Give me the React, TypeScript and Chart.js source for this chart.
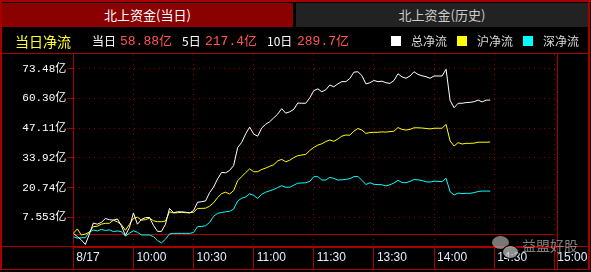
import React, { useEffect, useRef } from "react";
import { Chart, registerables } from "chart.js";

Chart.register(...registerables);

// minutes since 09:30 (trading minutes, lunch removed)
const minutes = [
  0, 2, 4, 6, 8, 10, 12, 14, 16, 18, 20, 22, 24, 26, 28, 30, 32, 34, 36, 38,
  40, 42, 44, 46, 48, 50, 52, 54, 56, 58, 60, 62, 64, 66, 68, 70, 72, 74, 76, 78,
  80, 82, 84, 86, 88, 90, 92, 94, 96, 98, 100, 102, 104, 106, 108, 110, 112, 114, 116, 118,
  120, 122, 124, 126, 128, 130, 132, 134, 136, 138, 140, 142, 144, 146, 148, 150, 152, 154, 156, 158,
  160, 162, 164, 166, 168, 170, 172, 174, 176, 178, 180, 182, 184, 186, 188, 190, 192, 194, 196, 198,
  200, 202, 204, 206, 208,
];

// 总净流 (亿)
const totalFlow = [
  0.4, -1, -2.5, -4.5, 0, 5, 4.5, 5.3, 7, 6.5,
  6.3, 6.8, 3.8, -0.5, 3, 9.5, 4.5, 6.6, 7.4, 7.5,
  4, 1.3, 1.3, 4.5, 11.5, 9.6, 10, 10, 9.8, 9.5,
  10.5, 14.2, 14.5, 14.8, 18.5, 21, 24.6, 27.5, 27.3, 28.4,
  30.5, 38.5, 40.8, 44.6, 47.6, 44.5, 43.6, 47.2, 48.9, 50,
  51.7, 53.4, 55.8, 53.8, 54.4, 55.5, 58.3, 58.2, 58.2, 60.6,
  63.8, 64.6, 63.3, 64.2, 66.3, 65.5, 66.8, 67.8, 67.8, 69.2,
  72, 72.2, 70.5, 66.8, 67.3, 68.3, 67.8, 68, 67.3, 67,
  68.3, 71.3, 69.9, 69.3, 70.3, 72.2, 71, 70.4, 70, 69.3,
  70.3, 70.3, 70.3, 73.3, 59.5, 56.2, 58.2, 58.2, 58.5, 58.6,
  58.9, 59.6, 58.8, 59.6, 59.6,
];

// 沪净流 (亿)
const shFlow = [
  0.4, 2.4, -0.3, 0.1, 1, 3.4, 3.6, 4.5, 4.9, 4.9,
  6.3, 5.5, 4.3, 1.8, 4.4, 7.1, 7.6, 6.3, 6.5, 7.2,
  6, 5.6, 5.6, 5.9, 10, 9.5, 9.6, 9.8, 9.6, 9.6,
  9.8, 11.5, 11.5, 11.6, 12.5, 14, 16.3, 18.1, 18.7, 17.9,
  19.4, 23.8, 25.6, 27.4, 29.1, 27.8, 27.8, 28.8, 29.4, 30.2,
  30.9, 32.6, 33.3, 32.2, 32.9, 34.1, 34.9, 35.2, 35.5, 37.2,
  38.6, 39.6, 40.2, 41.2, 41.9, 41.3, 42.3, 43.6, 44.1, 44,
  45.8, 47, 46.3, 44.8, 45.2, 45.3, 45.3, 45.5, 45.4, 45.6,
  45.8, 47.4, 46.6, 46.3, 46.6, 47.3, 47.3, 47.2, 47, 46.8,
  47.1, 47.1, 47.1, 48.8, 41.5, 39.2, 40.7, 40.1, 40.4, 40.4,
  40.5, 40.9, 40.9, 40.9, 41,
];

// 深净流 (亿)
const szFlow = [
  -1.1, -1.7, -1.5, -1.5, 1, 1.9, 1.5, 2.2, 1.7, 2,
  1.2, 1.5, 1.2, -0.8, 0.5, 1.6, 0.9, -0.3, -0.3, -0.3,
  -1, -2.8, -3.8, -2.2, 0.2, 0.4, 0.4, 0.4, 0.4, 0.4,
  0.8, 3.4, 3.5, 3.8, 5.3, 8, 9.3, 9.7, 10, 10.2,
  11.2, 14.8, 16, 16.6, 18, 17.3, 15.9, 17.8, 18.7, 19.3,
  19.9, 20.8, 21.6, 20.9, 20.9, 21.8, 22.7, 22.8, 22.9, 23.5,
  25.6, 25.6, 24.1, 24.1, 25.3, 24.8, 24.1, 24.2, 24.4, 24.7,
  25.6, 25.7, 24, 22.1, 22.9, 22.2, 22.1, 22, 21.5, 22,
  22.8, 24, 23, 22.9, 23.5, 24.3, 24.2, 23.9, 23.3, 23.2,
  23.6, 23.5, 23.4, 24.9, 18.9, 17.5, 18.3, 18.1, 18.2, 18.2,
  18.5, 19, 19.2, 19.2, 19.2,
];

const xTickMinutes = [0, 30, 60, 90, 120, 150, 180, 210, 240];
const xTickLabels = ["8/17", "10:00", "10:30", "11:00", "11:30", "13:30", "14:00", "14:30", "15:00"];
const yTickValues = [7.553, 20.738, 33.923, 47.108, 60.293, 73.478];
const yTickLabels = ["7.553亿", "20.74亿", "33.92亿", "47.11亿", "60.30亿", "73.48亿"];
const yRange = [-5.632, 80.07];
const xRange = [0, 241.6];

const summaryLabels = ["当日", "5日", "10日"];
const summaryValues = ["58.88亿", "217.4亿", "289.7亿"];
const seriesNames = ["总净流", "沪净流", "深净流"];

const RED = "#a80000";
const DOT = "#8c0000";
const COLORS = ["#ffffff", "#ffff00", "#00ffff"];
const CJK = '"Noto Sans CJK SC", sans-serif';
const MONO = '"Liberation Mono", "Noto Sans CJK SC", monospace';

const zeroLine = {
  id: "zeroLine",
  beforeDatasetsDraw(chart: any) {
    const { ctx, scales } = chart;
    const x = scales.x;
    const y = scales.y;
    const py = Math.round(y.getPixelForValue(0)) + 0.5;
    ctx.save();
    ctx.strokeStyle = RED;
    ctx.lineWidth = 1;
    ctx.beginPath();
    ctx.moveTo(x.getPixelForValue(0), py);
    ctx.lineTo(x.getPixelForValue(240), py);
    ctx.stroke();
    ctx.restore();
  },
};

function Box(props: { l: number; t: number; w: number; h: number; bg: string }) {
  return (
    <div
      style={{
        position: "absolute",
        left: props.l,
        top: props.t,
        width: props.w,
        height: props.h,
        background: props.bg,
      }}
    />
  );
}

function T(props: { l: number; t: number; size: number; color: string; font?: string; children: any }) {
  return (
    <div
      style={{
        position: "absolute",
        left: props.l,
        top: props.t,
        fontSize: props.size,
        lineHeight: props.size + "px",
        color: props.color,
        fontFamily: props.font || CJK,
        whiteSpace: "nowrap",
      }}
    >
      {props.children}
    </div>
  );
}

export default function App() {
  const ref = useRef<HTMLCanvasElement | null>(null);

  useEffect(() => {
    if (!ref.current) return;
    const series = [totalFlow, shFlow, szFlow];
    const chart = new Chart(ref.current, {
      type: "line",
      data: {
        datasets: series.map((vals, si) => ({
          label: seriesNames[si],
          data: minutes.map((m, i) => ({ x: m, y: vals[i] })),
          borderColor: COLORS[si],
          borderWidth: 1,
          pointRadius: 0,
          tension: 0,
          fill: false,
        })),
      },
      options: {
        animation: false,
        responsive: false,
        devicePixelRatio: 1,
        events: [],
        layout: {
          autoPadding: false,
          padding: { left: 0, top: 54, right: 33.5, bottom: 0 },
        },
        plugins: {
          legend: { display: false },
          tooltip: { enabled: false },
        },
        scales: {
          x: {
            type: "linear",
            position: "bottom",
            min: xRange[0],
            max: xRange[1],
            bounds: "data",
            afterFit: (s: any) => {
              s.height = 25;
            },
            afterBuildTicks: (s: any) => {
              s.ticks = xTickMinutes.map((v) => ({ value: v }));
            },
            grid: {
              color: DOT,
              lineWidth: 1,
              tickLength: 22,
              tickColor: RED,
              tickWidth: 1,
              drawOnChartArea: true,
            },
            border: { display: true, color: RED, width: 1, dash: [1, 4] },
            ticks: {
              autoSkip: false,
              maxRotation: 0,
              minRotation: 0,
              align: "start",
              labelOffset: 3,
              padding: -19,
              color: "#e4eeff",
              font: { family: '"Liberation Sans", Arial, sans-serif', size: 12 },
              callback: (_v: any, i: number) => xTickLabels[i],
            },
          },
          y: {
            type: "linear",
            position: "left",
            min: yRange[0],
            max: yRange[1],
            bounds: "data",
            afterFit: (s: any) => {
              s.width = 73.3;
            },
            afterBuildTicks: (s: any) => {
              s.ticks = yTickValues.map((v) => ({ value: v }));
            },
            grid: {
              color: DOT,
              lineWidth: 1,
              tickLength: 6,
              tickColor: RED,
              tickWidth: 1,
            },
            border: { display: true, color: RED, width: 1, dash: [1, 4] },
            ticks: {
              padding: 1,
              color: "#ffffff",
              font: { family: MONO, size: 11 },
              callback: (_v: any, i: number) => yTickLabels[i],
            },
          },
        },
      } as any,
      plugins: [zeroLine],
    });
    return () => chart.destroy();
  }, []);

  const summaryX = [92, 182, 267];
  const valueX = [120, 205, 297];
  const legendSq = [391, 457, 523];
  const legendTx = [411, 477, 543];

  return (
    <div
      style={{
        position: "fixed",
        left: 0,
        top: 0,
        width: 591,
        height: 272,
        background: "#000",
        overflow: "hidden",
      }}
    >
      <canvas
        ref={ref}
        width={591}
        height={272}
        style={{ position: "absolute", left: 0, top: 0, width: 591, height: 272 }}
      />
      {/* frame */}
      <Box l={0} t={0} w={591} h={2} bg={RED} />
      <Box l={0} t={0} w={2} h={270} bg={RED} />
      <Box l={588} t={0} w={2} h={270} bg={RED} />
      <Box l={0} t={269} w={590} h={1} bg={RED} />
      <Box l={0} t={53} w={590} h={1} bg={RED} />
      <Box l={0} t={246} w={590} h={1} bg={RED} />
      <Box l={557} t={53} w={1} h={217} bg={RED} />
      {/* tabs */}
      <div
        style={{
          position: "absolute",
          left: 2,
          top: 3,
          width: 291,
          height: 24,
          background: "#8b0000",
          color: "#ffffff",
          fontFamily: CJK,
          fontSize: 13,
          lineHeight: "24px",
          textAlign: "center",
        }}
      >
        北上资金(当日)
      </div>
      <div
        style={{
          position: "absolute",
          left: 296,
          top: 3,
          width: 292,
          height: 24,
          background: "#222222",
          color: "#cccccc",
          fontFamily: CJK,
          fontSize: 13,
          lineHeight: "24px",
          textAlign: "center",
        }}
      >
        北上资金(历史)
      </div>
      {/* summary row */}
      <T l={15} t={34} size={14} color="#ffff33">当日净流</T>
      {summaryLabels.map((s, i) => (
        <T key={"s" + i} l={summaryX[i]} t={35} size={12} color="#ffffff">
          {s}
        </T>
      ))}
      {summaryValues.map((s, i) => (
        <T key={"v" + i} l={valueX[i]} t={35} size={13} color="#ff5555" font={MONO}>
          {s}
        </T>
      ))}
      {seriesNames.map((s, i) => (
        <React.Fragment key={"l" + i}>
          <Box l={legendSq[i]} t={36} w={10} h={10} bg={COLORS[i]} />
          <T l={legendTx[i]} t={35} size={12} color="#d8d8d8">
            {s}
          </T>
        </React.Fragment>
      ))}
      {/* watermark */}
      <div
        style={{
          position: "absolute",
          left: 492,
          top: 236,
          width: 17,
          height: 13,
          borderRadius: "50%",
          background: "rgba(170,170,170,0.7)",
        }}
      />
      <div
        style={{
          position: "absolute",
          left: 502,
          top: 245,
          width: 15,
          height: 12,
          borderRadius: "50%",
          background: "rgba(190,190,190,0.75)",
          border: "1px solid #000",
        }}
      />
      <T l={522} t={238} size={14} color="rgba(160,160,160,0.8)">
        益盟好股
      </T>
    </div>
  );
}
